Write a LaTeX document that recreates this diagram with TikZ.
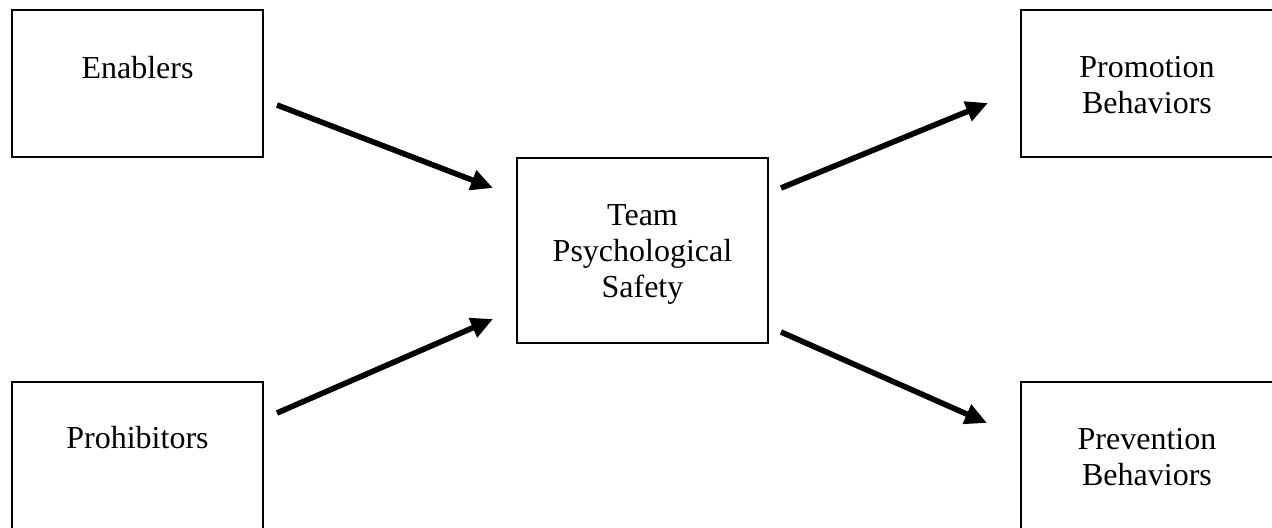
\documentclass[tikz,border=0pt]{standalone}
\usepackage{fontspec}
\setmainfont{Liberation Serif}
\usetikzlibrary{arrows.meta}
\begin{document}
\begin{tikzpicture}[x=0.5pt,y=-0.5pt,
  box/.style={draw,line width=1.2pt,inner sep=0pt,minimum width=125.5pt,minimum height=73.5pt},
  tallbox/.style={box,minimum height=92.5pt},
  lbl/.style={anchor=base,align=center,inner sep=0pt,
    font=\fontsize{16pt}{18pt}\selectfont},
  flow/.style={line width=2.8pt,-{Triangle[length=11pt,width=10pt]}}]
\useasboundingbox (0,0) rectangle (1272,527);

% boxes
\node[box] (en) at (137.5,83.5) {};
\node[box] (pr) at (137.5,455.5) {};
\node[tallbox] (tps) at (642.5,250.5) {};
\node[box,minimum width=126.5pt] (pb) at (1147.5,83.5) {};
\node[box,minimum width=126.5pt] (vb) at (1147.5,455.5) {};

% box texts (top aligned; base anchor sits on the last line)
\node[lbl] (en-t) at (137.5,78) {Enablers};
\node[lbl] (pr-t) at (137.5,448) {Prohibitors};
\node[lbl] (tps-t) at (642.5,297) {Team\\Psychological\\Safety};
\node[lbl] (pb-t) at (1147,113) {Promotion\\Behaviors};
\node[lbl] (vb-t) at (1147,485) {Prevention\\Behaviors};

% arrow end points
\coordinate (a1s) at (277,105);  \coordinate (a1e) at (493,188);
\coordinate (a2s) at (277,413);  \coordinate (a2e) at (493,319);
\coordinate (a3s) at (781,188);  \coordinate (a3e) at (988,103);
\coordinate (a4s) at (781,332);  \coordinate (a4e) at (987,423);

\draw[flow] (a1s) -- (a1e);
\draw[flow] (a2s) -- (a2e);
\draw[flow] (a3s) -- (a3e);
\draw[flow] (a4s) -- (a4e);
\end{tikzpicture}
\end{document}
